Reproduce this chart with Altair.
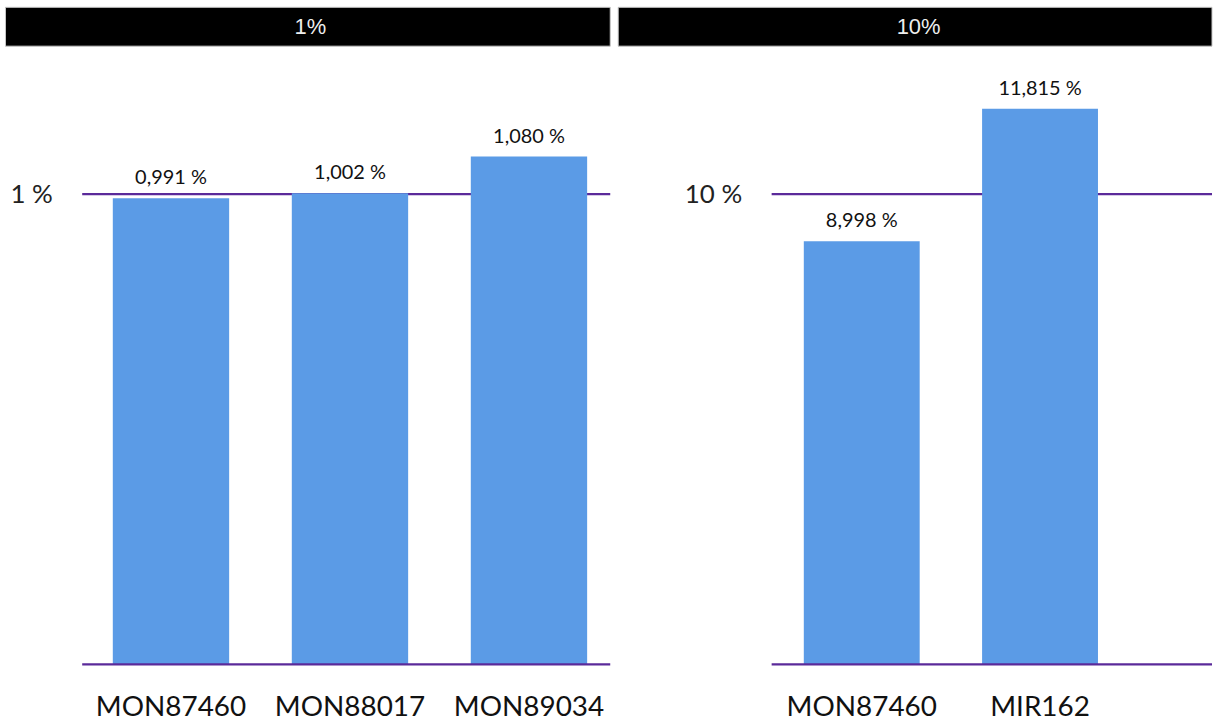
import altair as alt
import pandas as pd

# ---- data ----
panel_titles = ["1%", "10%"]
reference_levels = [1, 10]

left_events = ["MON87460", "MON88017", "MON89034"]
left_values = [0.991, 1.002, 1.080]

right_events = ["MON87460", "MIR162"]
right_values = [8.998, 11.815]

BAR = "#5b9be6"
PURPLE = "#5b2a9a"
FONT = "Lato"


def fmt(v):
    return f"{v:.3f}".replace(".", ",") + " %"


def panel(title, ref, events, values, width, y_max, pad_outer, align,
          head_x, head_x2, head_cx):
    df = pd.DataFrame({"event": events, "value": values,
                       "label": [fmt(v) for v in values]})
    ref_df = pd.DataFrame({"value": [ref]})
    zero_df = pd.DataFrame({"value": [0]})
    hdr = pd.DataFrame({"panel": [title]})

    y_scale = alt.Scale(domain=[0, y_max], nice=False, zero=True)
    y_axis = alt.Axis(values=[ref], labelExpr="datum.value + ' %'", title=None,
                      domain=False, ticks=False, grid=False, labelPadding=30,
                      labelFontSize=26, labelFont=FONT, labelColor="#222222")
    x_enc = alt.X("event:N", sort=events,
                  scale=alt.Scale(paddingInner=0.35, paddingOuter=pad_outer, align=align),
                  axis=alt.Axis(title=None, labelAngle=0, domain=False, ticks=False,
                                labelPadding=29, labelFontSize=28, labelFont=FONT,
                                labelColor="#111111", labelBaseline="top"))

    ref_rule = alt.Chart(ref_df).mark_rule(color=PURPLE, strokeWidth=2.5).encode(
        y=alt.Y("value:Q", scale=y_scale, axis=y_axis))
    bars = alt.Chart(df).mark_bar(color=BAR).encode(
        x=x_enc, y=alt.Y("value:Q", scale=y_scale, axis=y_axis))
    zero_rule = alt.Chart(zero_df).mark_rule(color=PURPLE, strokeWidth=2.5).encode(
        y=alt.Y("value:Q", scale=y_scale, axis=y_axis))
    labels = alt.Chart(df).mark_text(baseline="bottom", dy=-10, fontSize=20,
                                     font=FONT, color="#111111").encode(
        x=x_enc, y=alt.Y("value:Q", scale=y_scale, axis=y_axis), text="label:N")
    head_rect = alt.Chart(hdr).mark_rect(fill="black", stroke="#c8c8c8",
                                         strokeWidth=1).encode(
        x=alt.value(head_x), x2=alt.value(head_x2),
        y=alt.value(-49.5), y2=alt.value(-10.5))
    head_text = alt.Chart(hdr).mark_text(fontSize=22, font="Liberation Sans",
                                         color="#eeeeee", baseline="middle",
                                         align="center").encode(
        x=alt.value(head_cx), y=alt.value(-29.5), text="panel:N")

    return alt.layer(ref_rule, bars, zero_rule, labels, head_rect, head_text).properties(
        width=width, height=610)


left = panel(panel_titles[0], reference_levels[0], left_events, left_values,
             530, 1.2924, 0.15, 0.57, -77, 530, 229)
right = panel(panel_titles[1], reference_levels[1], right_events, right_values,
              442, 12.924, 0.41, 0.22, -154, 442, 147.5)

chart = alt.hconcat(left, right, spacing=5).properties(
    padding={"left": 4.5, "top": 5.5, "right": 0, "bottom": 0},
    background="white",
).configure_view(stroke=None)

chart.save("out.html", embed_options={"renderer": "svg", "actions": False})
